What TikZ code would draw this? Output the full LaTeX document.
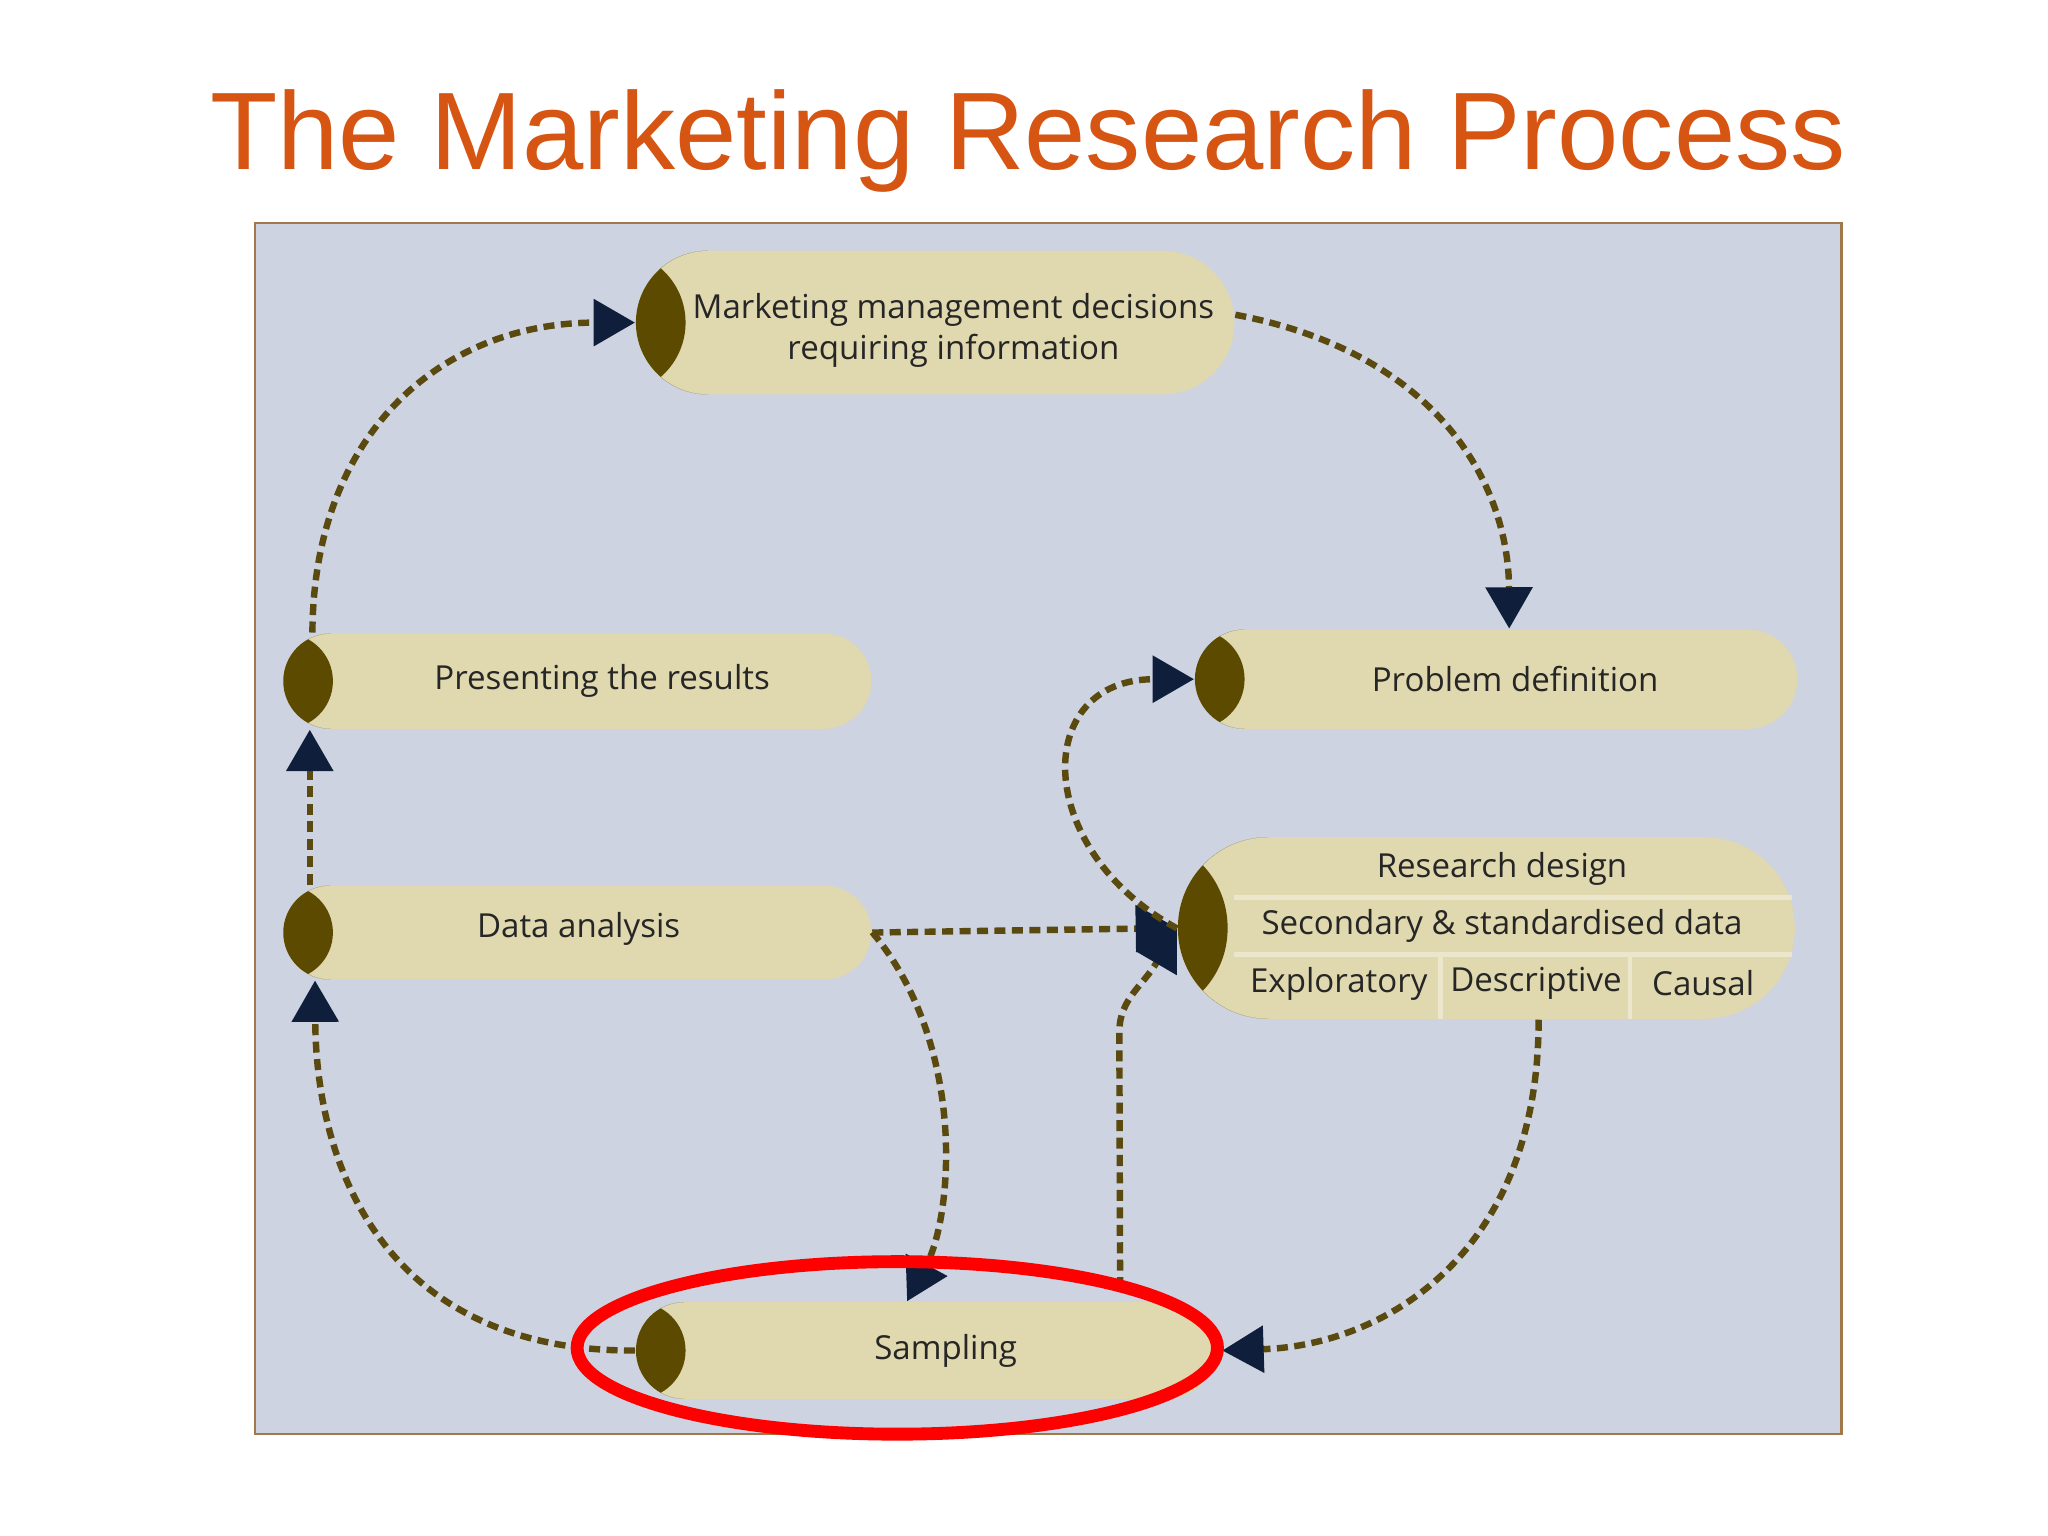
\documentclass[tikz,border=0pt]{standalone}
\usepackage{fontspec}
\setmainfont{Open Sans}
\newfontfamily\titlefont{Liberation Sans}
\usetikzlibrary{arrows.meta}
\definecolor{panel}{HTML}{CDD3E0}
\definecolor{pale}{HTML}{E0D8AE}
\definecolor{capc}{HTML}{5C4A00}
\definecolor{lineol}{HTML}{5A4A10}
\definecolor{navy}{HTML}{0F1E3A}
\definecolor{ttl}{HTML}{D65513}
\definecolor{divc}{HTML}{ECE6CC}
\tikzset{
  pill/.style={fill=pale, draw=none, inner sep=0pt, rounded corners=#1,
    path picture={\fill[capc] (path picture bounding box.north west) rectangle ([xshift=0.38cm]path picture bounding box.south west);}},
  lbl/.style={font=\fontsize{7.2}{9}\selectfont, text=black!85, inner sep=0pt, align=center},
  conn/.style={draw=lineol, line width=1.4pt, dash pattern=on 2.4pt off 1.4pt,
    -{Triangle[width=10pt,length=9pt,fill=navy,color=navy]}}
}
\begin{document}
\begin{tikzpicture}[x=0.01cm,y=-0.01cm]
\useasboundingbox (0,0) rectangle (1568,1176);
\node[font=\titlefont\fontsize{24}{28}\selectfont, text=ttl] (title) at (787,108) {The Marketing Research Process};
\fill[panel] (195,171) rectangle (1410,1098);
\draw[draw={rgb,255:red,160;green,120;blue,74}, line width=0.5pt] (195,171) rectangle (1410,1098);

\node[pill=0.55cm, minimum width=4.58cm, minimum height=1.10cm] (top) at (716,247) {};
\node[lbl] (topt) at (730,253) {Marketing management decisions\\requiring information};
\node[pill=0.365cm, minimum width=4.50cm, minimum height=0.73cm] (pres) at (442,521.5) {};
\node[lbl] (prest) at (461,521) {Presenting the results};
\node[pill=0.36cm, minimum width=4.50cm, minimum height=0.72cm] (data) at (442,714) {};
\node[lbl] (datat) at (443,711) {Data analysis};
\node[pill=0.38cm, minimum width=4.61cm, minimum height=0.76cm] (prob) at (1145.5,520) {};
\node[lbl] (probt) at (1160,520) {Problem definition};
\node[pill=0.69cm, minimum width=4.72cm, minimum height=1.39cm] (rd) at (1138,710.5) {};
\draw[divc, line width=1pt] (945,687) -- (1372,687) (945,731) -- (1372,731)
  (1103,731) -- (1103,780) (1248,731) -- (1248,780);
\node[lbl] (rd1) at (1150,665) {Research design};
\node[lbl] (rd2) at (1150,709) {Secondary \& standardised data};
\node[lbl] (rd3) at (1025,753) {Exploratory};
\node[lbl] (rd4) at (1176,753) {Descriptive};
\node[lbl] (rd5) at (1304,753) {Causal};
\node[pill=0.37cm, minimum width=4.43cm, minimum height=0.74cm] (samp) at (708.5,1034) {};
\node[lbl] (sampt) at (724,1034) {Sampling};

\draw[conn] ([yshift=0.06cm]top.east) .. controls (1100,270) and (1155,370) .. ([xshift=0.1cm]prob.north);
\draw[conn] ([xshift=0.23cm]pres.north west) .. controls (240,330) and (340,247) .. (top.west);
\draw[conn] ([xshift=0.21cm]data.north west) -- ([xshift=0.21cm]pres.south west);
\draw[conn] (samp.west) .. controls (300,1035) and (242,900) .. ([xshift=0.25cm]data.south west);
\draw[conn] (data.east) -- (rd.west);
\draw[conn] ([shift={(-0.02,-0.29)}]data.east) .. controls (740,800) and (730,930) .. ([xshift=-0.14cm]samp.north);
\draw[conn] ([xshift=1.49cm,yshift=0.1cm]samp.north) -- (857,790) .. controls (857,765) and (875,755) .. ([shift={(0.03,-0.37)}]rd.west);
\draw[conn] ([xshift=0.40cm]rd.south) .. controls (1178,960) and (1060,1030) .. ([xshift=0.05cm]samp.east);
\draw[conn] ([shift={(0.08,0.325)}]rd.west) .. controls (790,650) and (790,520) .. (prob.west);

\draw[red, line width=2.8pt] (687,1032) ellipse [x radius=2.45cm, y radius=0.66cm];
\end{tikzpicture}
\end{document}
